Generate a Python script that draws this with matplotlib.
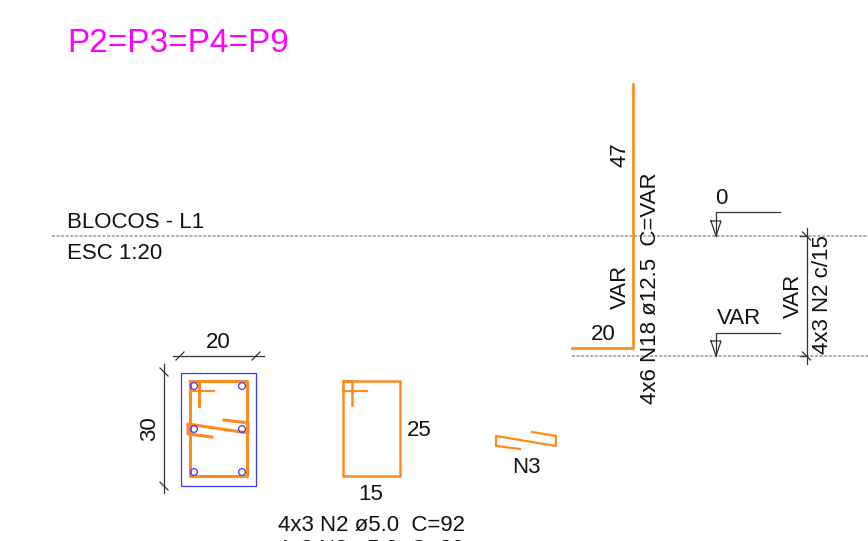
import matplotlib
matplotlib.use("Agg")
import matplotlib.pyplot as plt
from matplotlib.patches import Circle, Rectangle

W, H = 868, 541
ORANGE = "#ff8a1e"
BLUE = "#3a3aff"
DARK = "#333333"
TXT = "#111111"
FS = 16

plt.rcParams["font.family"] = ["Liberation Sans", "DejaVu Sans"]

# textos: (x, y, texto, rotacao)
labels = [
    (67, 227.5, "BLOCOS - L1", 0),
    (67, 259, "ESC 1:20", 0),
    (218, 348, "20", 0),
    (150, 429, "30", 90),
    (419, 436.5, "25", 0),
    (371, 500, "15", 0),
    (526, 473, "N3", 0),
    (371, 531, "4x3 N2 ø5.0  C=92", 0),
    (371, 555, "4x3 N3 ø5.0  C=30", 0),
    (620, 155, "47", 90),
    (620, 287, "VAR", 90),
    (603, 340, "20", 0),
    (651, 288, "4x6 N18 ø12.5  C=VAR", 90),
    (721, 204, "0", 0),
    (739, 324, "VAR", 0),
    (793, 296, "VAR", 90),
    (822, 295, "4x3 N2 c/15", 90),
]

# armaduras (polilinhas em laranja)
stirrup_xs = [189.5, 247, 247, 189.5, 189.5, 199, 199]
stirrup_ys = [381, 381, 476, 476, 381, 381, 406]
stirrup_hook_xs = [189.5, 214]
stirrup_hook_ys = [391, 391]
tie_xs = [212, 188, 188, 248, 248, 224]
tie_ys = [437, 434, 424, 433, 423, 420]
n2_xs = [343, 400, 400, 343, 343, 352, 352]
n2_ys = [381, 381, 476, 476, 381, 381, 405]
n2_hook_xs = [343, 367]
n2_hook_ys = [391, 391]
n3_xs = [520, 496, 496, 556, 556, 532]
n3_ys = [449, 446, 436, 446, 436, 432]
n18_xs = [633, 633, 572]
n18_ys = [84, 348, 348]

# barras longitudinais
bar_xs = [194, 242, 194, 242, 194, 242]
bar_ys = [386, 386, 429, 429, 472, 472]

# niveis (y da linha tracejada, x inicial)
level_ys = [236, 356]
level_starts = [52, 572]

# marcadores de nivel (y do leader, y da linha)
marker_tops = [212, 333]
marker_bases = [236, 356]

fig = plt.figure(figsize=(W / 100, H / 100), dpi=100)
ax = fig.add_axes([0, 0, 1, 1])
ax.set_xlim(0, W)
ax.set_ylim(H, 0)
ax.axis("off")

# linhas de nivel
for y, x0 in zip(level_ys, level_starts):
    ax.plot([x0, W], [y, y], color="#999999", lw=1.1, ls=(0, (2, 1)))

# secao
ax.add_patch(Rectangle((180.5, 372.5), 75, 113, fill=False, ec=BLUE, lw=0.9))
for x, y in zip(bar_xs, bar_ys):
    ax.add_patch(Circle((x, y), 3.4, fill=False, ec=BLUE, lw=0.9, zorder=4))

for xs, ys, lw in [
    (stirrup_xs, stirrup_ys, 2.2),
    (stirrup_hook_xs, stirrup_hook_ys, 1.6),
    (tie_xs, tie_ys, 2.2),
    (n2_xs, n2_ys, 1.8),
    (n2_hook_xs, n2_hook_ys, 1.6),
    (n3_xs, n3_ys, 1.6),
    (n18_xs, n18_ys, 1.9),
]:
    ax.plot(xs, ys, color=ORANGE, lw=lw, solid_joinstyle="round", zorder=3)

# cotas
ax.plot([173, 264], [356, 356], color=DARK, lw=0.9)
ax.plot([164, 164], [364, 493], color=DARK, lw=0.9)
ax.plot([806.5, 806.5], [228, 364], color=DARK, lw=0.9)
ax.plot([800, 806.5], [236, 236], color=DARK, lw=0.9)
ax.plot([800, 806.5], [356, 356], color=DARK, lw=0.9)
for x, y in [(180, 356), (256, 356), (164, 372), (164, 486), (806.5, 236), (806.5, 356)]:
    ax.plot([x - 4, x + 4], [y + 4, y - 4] if y == 356 and x < 300 else [y - 4, y + 4],
            color=DARK, lw=0.9)

# marcadores de nivel
for top, base in zip(marker_tops, marker_bases):
    ax.plot([780, 716, 716], [top, top, base], color=DARK, lw=0.9)
    ax.plot([711, 721, 716, 711], [base - 15, base - 15, base, base - 15], color=DARK, lw=0.9)

ax.text(67, 52, "P2=P3=P4=P9", color="#ff00ff", fontsize=24, ha="left", va="baseline")

for x, y, s, rot in labels:
    if rot:
        ax.text(x, y, s, color=TXT, fontsize=FS, rotation=90, ha="center", va="center",
                rotation_mode="anchor")
    elif x == 67:
        ax.text(x, y, s, color=TXT, fontsize=FS, ha="left", va="baseline")
    else:
        ax.text(x, y, s, color=TXT, fontsize=FS, ha="center", va="baseline")

fig.savefig("out.png", dpi=100)
